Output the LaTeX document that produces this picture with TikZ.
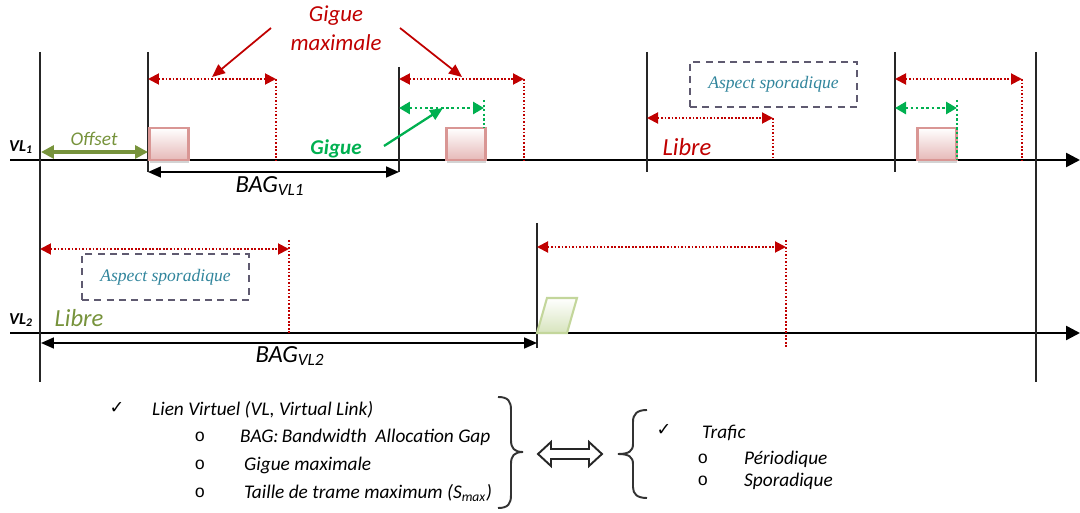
\documentclass[tikz,border=0pt]{standalone}
\usepackage{fontspec}
\setmainfont{Carlito}
\newfontfamily\serifit{Liberation Serif}
\newfontfamily\symb{DejaVu Sans}
\newfontfamily\monof{Liberation Mono}
\usepackage{tikz}
\usetikzlibrary{arrows.meta,shadows}
\definecolor{darkred}{HTML}{C00000}
\definecolor{olivegreen}{HTML}{77933C}
\definecolor{giguegreen}{HTML}{00B050}
\definecolor{framepink}{HTML}{D99694}
\definecolor{fillpink}{HTML}{E6B9B8}
\definecolor{framegreen}{HTML}{C3D69B}
\definecolor{fillgreen}{HTML}{D7E4BD}
\definecolor{boxgray}{HTML}{5F5A70}
\definecolor{sporblue}{HTML}{31859C}

\begin{document}
\begin{tikzpicture}[x=0.02cm, y=-0.02cm,
  tickline/.style={line width=1.1pt, black!85},
  axisline/.style={line width=1.4pt, -{Triangle[length=0.28cm, width=0.28cm]}},
  maxjit/.style={darkred, line width=1.1pt, dash pattern=on 1pt off 1pt, {Triangle[length=0.22cm, width=0.22cm]}-{Triangle[length=0.22cm, width=0.22cm]}},
  maxdrop/.style={darkred, line width=1.1pt, dash pattern=on 1pt off 1pt},
  jit/.style={giguegreen, line width=1.6pt, dash pattern=on 1.5pt off 1.5pt, {Triangle[length=0.22cm, width=0.24cm]}-{Triangle[length=0.22cm, width=0.24cm]}},
  jitdrop/.style={giguegreen, line width=1.3pt, dash pattern=on 1.3pt off 1.3pt},
  bagarrow/.style={line width=1pt, {Triangle[length=0.26cm, width=0.22cm]}-{Triangle[length=0.26cm, width=0.22cm]}},
  pointer/.style={line width=1pt, -{Triangle[length=0.26cm, width=0.22cm]}},
  pinkframe/.style={draw=framepink, line width=1.2pt, top color=white, bottom color=fillpink, minimum width=0.78cm, minimum height=0.64cm, drop shadow={shadow xshift=0.4pt, shadow yshift=-1.5pt, opacity=0.35}},
  sporbox/.style={draw=boxgray, line width=1pt, dash pattern=on 4pt off 3pt, minimum width=3.34cm, minimum height=0.91cm, text=sporblue, font=\serifit\itshape\fontsize{10}{12}\selectfont},
  vllabel/.style={font=\bfseries\itshape\fontsize{9.5}{11}\selectfont},
  listtext/.style={anchor=west, black, font=\itshape\fontsize{11}{13}\selectfont},
  bullet/.style={black, font=\monof\fontsize{10}{12}\selectfont}]
\useasboundingbox (0,0) rectangle (1080,513);

% time axes
\coordinate (ax1) at (10,160); \coordinate (ax1e) at (1080,160);
\coordinate (ax2) at (10,333); \coordinate (ax2e) at (1080,333);
\draw[axisline] (ax1) -- (ax1e);
\draw[axisline] (ax2) -- (ax2e);
\node[vllabel] (vl1) at (21,147) {VL\textsubscript{1}};
\node[vllabel] (vl2) at (21,320) {VL\textsubscript{2}};

% graduations
\draw[tickline] (40,52) -- (40,382);
\draw[tickline] (148,52) -- (148,172);
\draw[tickline] (399,67) -- (399,172);
\draw[tickline] (647,52) -- (647,172);
\draw[tickline] (895,52) -- (895,172);
\draw[tickline] (1036,52) -- (1036,382);
\draw[tickline] (537,223) -- (537,348);

% frames
\node[pinkframe] (f1) at (169,144) {};
\node[pinkframe] (f2) at (466,144) {};
\node[pinkframe] (f3) at (937,144) {};
\path[draw=framegreen, line width=1.2pt, top color=white, bottom color=fillgreen] (537,333) -- (547,298) -- (577,298) -- (567,333) -- cycle;

% offset and BAG
\coordinate (o1) at (41,152); \coordinate (o2) at (148,152);
\draw[olivegreen, line width=2.2pt, {Triangle[length=0.26cm, width=0.26cm]}-{Triangle[length=0.26cm, width=0.26cm]}] (o1) -- (o2);
\node[olivegreen, font=\itshape\fontsize{11}{13}\selectfont] (off) at (94,139) {Offset};
\coordinate (g1) at (148,172); \coordinate (g2) at (399,172);
\draw[bagarrow] (g1) -- (g2);
\node[font=\itshape\fontsize{14}{16}\selectfont] (bag1) at (270,186) {BAG\textsubscript{VL1}};
\coordinate (h1) at (41,343); \coordinate (h2) at (537,343);
\draw[bagarrow] (h1) -- (h2);
\node[font=\itshape\fontsize{14}{16}\selectfont] (bag2) at (290,356) {BAG\textsubscript{VL2}};

% maximal jitter
\coordinate (m1a) at (148,79); \coordinate (m1b) at (276,79); \coordinate (m1c) at (276,160);
\draw[maxjit] (m1a) -- (m1b); \draw[maxdrop] (m1b) -- (m1c);
\coordinate (m2a) at (399,79); \coordinate (m2b) at (524,79); \coordinate (m2c) at (524,160);
\draw[maxjit] (m2a) -- (m2b); \draw[maxdrop] (m2b) -- (m2c);
\coordinate (m3a) at (647,118); \coordinate (m3b) at (773,118); \coordinate (m3c) at (773,160);
\draw[maxjit] (m3a) -- (m3b); \draw[maxdrop] (m3b) -- (m3c);
\coordinate (m4a) at (895,79); \coordinate (m4b) at (1022,79); \coordinate (m4c) at (1022,160);
\draw[maxjit] (m4a) -- (m4b); \draw[maxdrop] (m4b) -- (m4c);
\coordinate (m5a) at (40,249); \coordinate (m5b) at (289,249); \coordinate (m5t) at (289,240); \coordinate (m5c) at (289,333);
\draw[maxjit] (m5a) -- (m5b); \draw[maxdrop] (m5t) -- (m5c);
\coordinate (m6a) at (537,247); \coordinate (m6b) at (786,247); \coordinate (m6t) at (786,240); \coordinate (m6c) at (786,348);
\draw[maxjit] (m6a) -- (m6b); \draw[maxdrop] (m6t) -- (m6c);

% jitter
\coordinate (j1a) at (399,108); \coordinate (j1b) at (484,108);
\coordinate (j1t) at (484,100); \coordinate (j1c) at (484,128);
\draw[jit] (j1a) -- (j1b); \draw[jitdrop] (j1t) -- (j1c);
\coordinate (j2a) at (895,108); \coordinate (j2b) at (957,108);
\coordinate (j2t) at (957,100); \coordinate (j2c) at (957,160);
\draw[jit] (j2a) -- (j2b); \draw[jitdrop] (j2t) -- (j2c);

% labels and pointers
\node[darkred, align=center, font=\itshape\fontsize{13}{16.5}\selectfont] (gmax) at (336,28) {Gigue\\maximale};
\coordinate (p1) at (271,28); \coordinate (q1) at (212,77);
\coordinate (p2) at (400,28); \coordinate (q2) at (462,77);
\draw[pointer, darkred] (p1) -- (q1);
\draw[pointer, darkred] (p2) -- (q2);
\node[giguegreen, font=\bfseries\itshape\fontsize{12}{14}\selectfont] (gj) at (336,149) {Gigue};
\coordinate (p3) at (384,146); \coordinate (q3) at (443,108);
\draw[pointer, giguegreen, line width=1.3pt] (p3) -- (q3);
\node[darkred, font=\itshape\fontsize{14}{16}\selectfont] (lib1) at (687,147) {Libre};
\node[olivegreen, font=\itshape\fontsize{14}{16}\selectfont] (lib2) at (79,318) {Libre};
\node[sporbox] (spor1) at (773.5,84.5) {Aspect sporadique};
\node[sporbox] (spor2) at (165.5,277) {Aspect sporadique};

% legend
\node[black, font=\symb\fontsize{10}{12}\selectfont] (ck1) at (117,408) {✓};
\node[listtext] (vl) at (146,410) {Lien Virtuel (VL, Virtual Link)};
\node[bullet] (o1) at (200,437) {o};
\node[bullet] (o2) at (200,465) {o};
\node[bullet] (o3) at (200,493) {o};
\node[listtext] (bag) at (234,437) {BAG:\,Bandwidth\ \ Allocation Gap};
\node[listtext] (gm) at (238,465) {Gigue maximale};
\node[listtext] (smax) at (238,493) {Taille de trame maximum (S\textsubscript{max})};
\draw[line width=1.1pt, black!80] (498,397) .. controls (508,397) and (511,401) .. (511,410) -- (511,440) .. controls (511,448) and (514,452) .. (523,452) .. controls (514,452) and (511,456) .. (511,464) -- (511,495) .. controls (511,504) and (508,508) .. (498,508);
\draw[line width=1.1pt, black!85] (538,454) -- (551,442) -- (551,449) -- (589,449) -- (589,442) -- (602,454) -- (589,466) -- (589,459) -- (551,459) -- (551,466) -- cycle;
\draw[line width=1.1pt, black!80] (647,410) .. controls (637,410) and (633,414) .. (633,422) -- (633,444) .. controls (633,451) and (629,454) .. (618,454) .. controls (629,454) and (633,457) .. (633,464) -- (633,487) .. controls (633,494) and (637,498) .. (647,498);
\node[black, font=\symb\fontsize{10}{12}\selectfont] (ck2) at (664,430) {✓};
\node[listtext] (traf) at (696,433) {Trafic};
\node[bullet] (o4) at (703,459) {o};
\node[bullet] (o5) at (703,481) {o};
\node[listtext] (per) at (738,459) {Périodique};
\node[listtext] (spo) at (738,481) {Sporadique};
\end{tikzpicture}
\end{document}
